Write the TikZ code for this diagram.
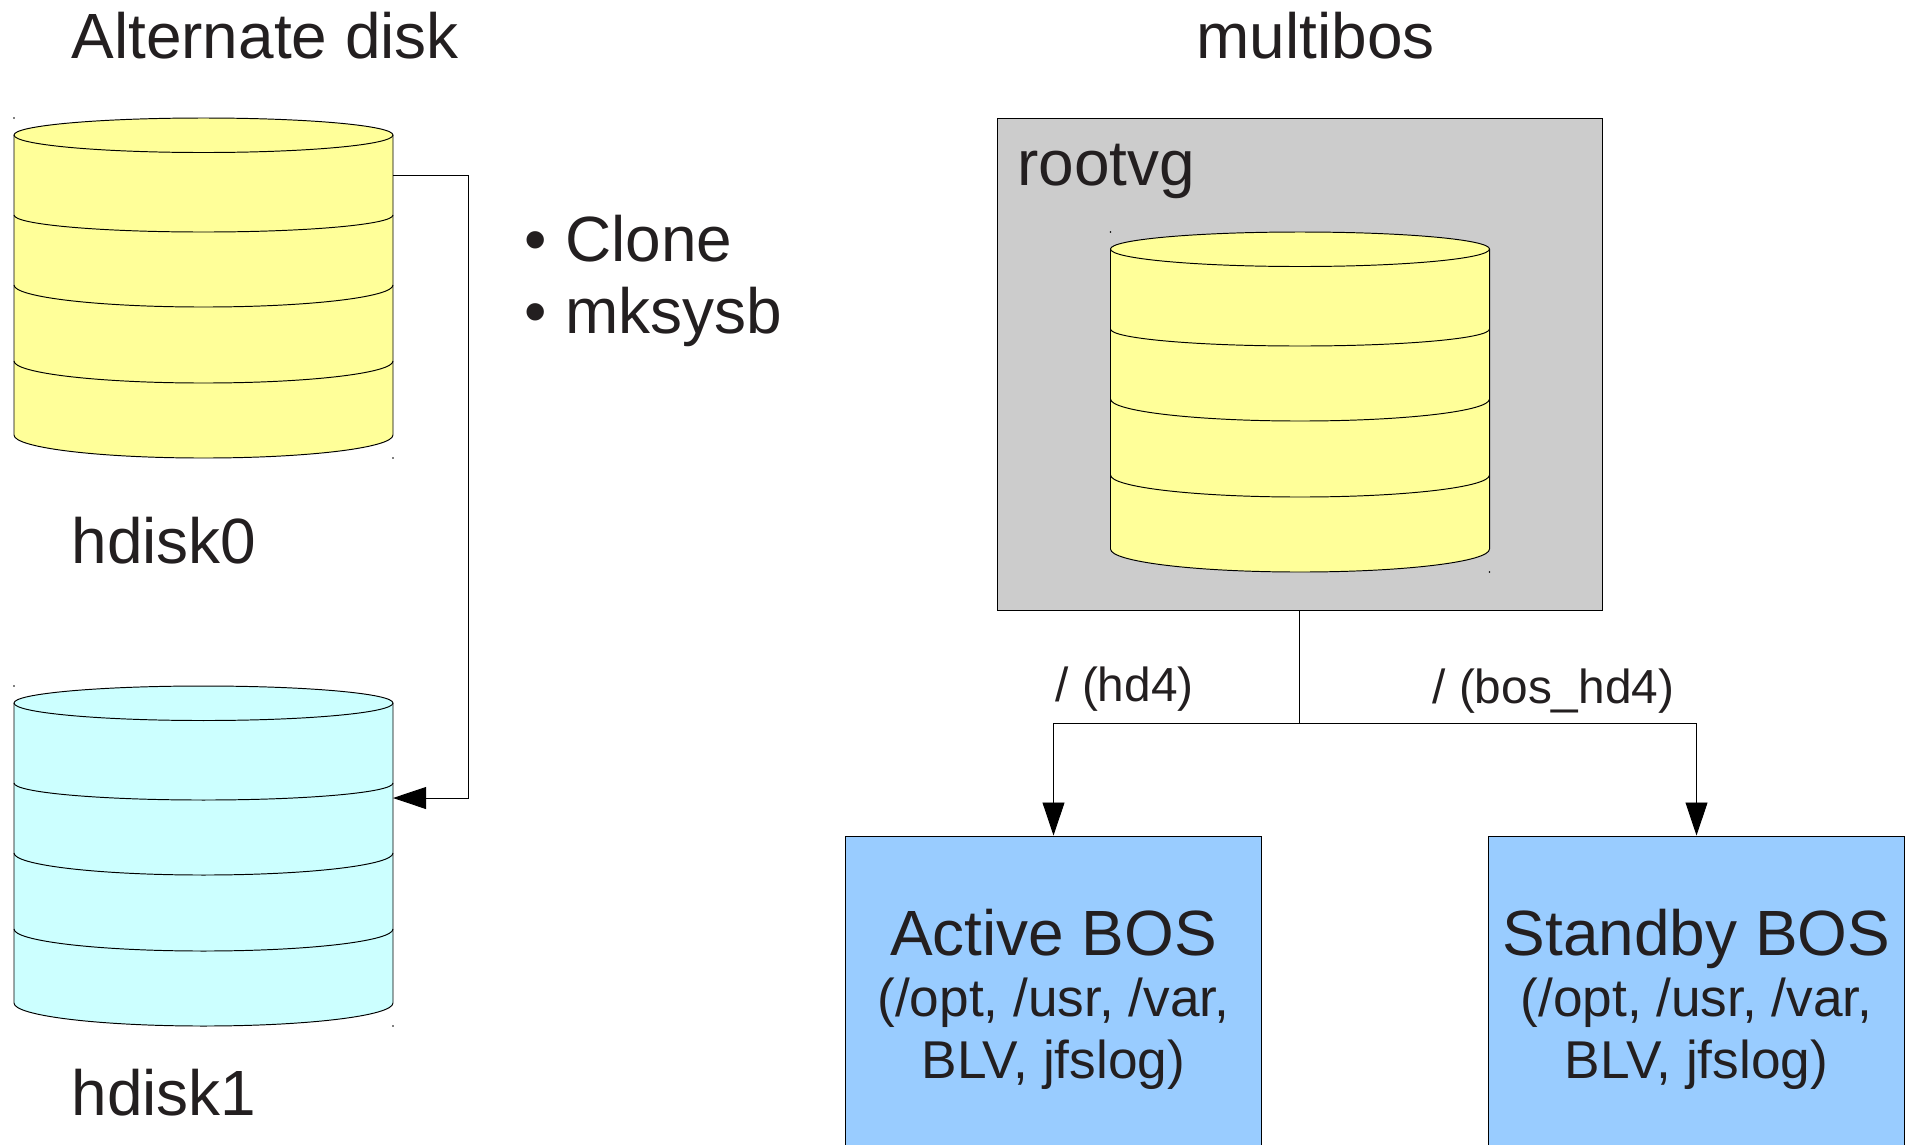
\documentclass[tikz,border=0pt]{standalone}
\usepackage{fontspec}
\setmainfont{Liberation Sans}
\usetikzlibrary{arrows.meta}
\usetikzlibrary{positioning}
\definecolor{diskyellow}{HTML}{FFFF99}
\definecolor{diskcyan}{HTML}{CCFFFF}
\definecolor{vggray}{HTML}{CCCCCC}
\definecolor{bosblue}{HTML}{99CCFF}
\definecolor{inkgray}{HTML}{231F20}
\newcommand{\bigtxt}{\fontsize{36.4}{35}\selectfont}
\newcommand{\midtxt}{\fontsize{30.3}{35}\selectfont}
\newcommand{\smalltxt}{\fontsize{27.2}{32}\selectfont}
\newcommand{\drum}[3]{
  \begin{scope}[shift={(#1,#2)}]
    \path[fill=#3,draw=black,line width=0.55pt] (0,17) -- (0,317) arc[start angle=180,end angle=0,x radius=189.5,y radius=23] -- (379,17) arc[start angle=0,end angle=-180,x radius=189.5,y radius=17] -- cycle;
    \draw[line width=0.55pt] (0,17) arc[start angle=180,end angle=0,x radius=189.5,y radius=17.5];
    \foreach \ya/\rad in {97/17,167/22,243/22}
      \draw[line width=0.55pt] (0,\ya) arc[start angle=180,end angle=0,x radius=189.5,y radius=\rad];
    \fill (0,0) circle (0.8);
    \fill (379,340) circle (0.8);
  \end{scope}
}

\begin{document}
\begin{tikzpicture}[x=0.02cm,y=-0.02cm,>={Triangle[length=18.8pt,width=12.5pt]},line width=0.55pt,
    big text/.style={anchor=base west,inner sep=0pt,text=inkgray,font=\bigtxt},
    small text/.style={anchor=base west,inner sep=0pt,text=inkgray,font=\smalltxt},
    bos node/.style={rectangle,draw,fill=bosblue,text=inkgray,align=center,font=\midtxt,minimum width=416*0.02cm,minimum height=373*0.02cm,inner sep=0pt}]
  \clip[use as bounding box] (0,0) rectangle (1916,1144);

  \node[big text] (alt) at (71,58) {Alternate disk};
  \node[big text] (multi) at (1196,58) {multibos};

  % left disks
  \drum{14}{118}{diskyellow}
  \drum{14}{686}{diskcyan}
  \node[big text] (hd0) at (71,563.5) {hdisk0};
  \node[big text] (hd1) at (71,1115) {hdisk1};
  \coordinate (hd0 out) at (393,175);
  \coordinate (hd1 in) at (393,798);
  \coordinate (turn) at (468,175);
  \draw[->] (hd0 out) -- (turn) |- (hd1 in);

  \node[big text] (clone) at (524,261) {•\hspace{0.29em}Clone};
  \node[big text] (mksysb) at (524,333) {•\hspace{0.29em}mksysb};

  % rootvg
  \node[rectangle,draw,fill=vggray,minimum width=605*0.02cm,minimum height=492*0.02cm,inner sep=0pt] (vg) at (1299.5,364) {};
  \node[big text] (vglabel) at (1017,185) {rootvg};
  \drum{1110.5}{232}{diskyellow}

  % boot images
  \node[bos node] (active) at (1053.5,1022.5) {\smash{\bigtxt Active BOS}\\(/opt, /usr, /var,\\BLV, jfslog)};
  \node[bos node] (standby) at (1696.5,1022.5) {\smash{\bigtxt Standby BOS}\\(/opt, /usr, /var,\\BLV, jfslog)};
  \coordinate (split) at (1299.5,723);
  \draw (vg.south) -- (split);
  \draw[->] (split) -| (active.north);
  \draw[->] (split) -| (standby.north);
  \node[small text] (hd4) at (1055,701) {/ (hd4)};
  \node[small text] (boshd4) at (1432,703) {/ (bos\_hd4)};
\end{tikzpicture}
\end{document}
